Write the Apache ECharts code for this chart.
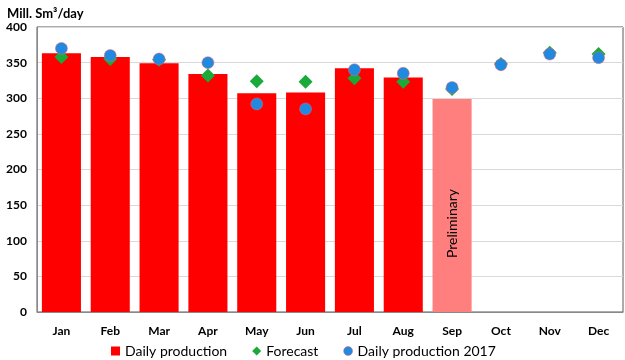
<!DOCTYPE html>
<html><head><meta charset="utf-8">
<script src="https://cdn.jsdelivr.net/npm/echarts@6/dist/echarts.min.js"></script>
<style>html,body{margin:0;padding:0;background:#fff}#c{width:625px;height:360px}</style>
</head><body><div id="c"></div>
<script>
var months = ['Jan','Feb','Mar','Apr','May','Jun','Jul','Aug','Sep','Oct','Nov','Dec'];
var dailyProduction = [363, 358, 349, 334, 307, 308, 342, 329, 299, null, null, null];
var forecast = [358, 355, 354, 332, 324, 323, 328, 323, 313, 348, 364, 362];
var production2017 = [370, 360, 355, 350, 292, 285, 340, 335, 315, 347, 362, 357];
var preliminaryIndex = 8;
var yTicks = {min: 0, max: 400, interval: 50};

var font = 'Lato, "Open Sans", sans-serif';
var barData = dailyProduction.map(function (v, i) {
  if (i === preliminaryIndex) {
    return {value: v, itemStyle: {color: '#ff7f7f'},
      label: {show: true, formatter: 'Preliminary', position: 'inside', rotate: 90,
        offset: [-18, 0], color: '#000', fontSize: 14, fontFamily: font}};
  }
  return v;
});

var chart = echarts.init(document.getElementById('c'));
chart.setOption({
  animation: false,
  textStyle: {fontFamily: font},
  grid: {left: 37, right: 2, top: 27, bottom: 48, show: true, borderColor: '#595959', borderWidth: 1},
  title: {text: 'Mill. Sm³/day', left: 2, top: 2,
    textStyle: {fontSize: 13, fontWeight: 'bold', color: '#000', fontFamily: font}},
  legend: {bottom: -3, left: 106, itemGap: 25, itemWidth: 9, itemHeight: 9,
    textStyle: {fontSize: 14, color: '#000', fontFamily: font},
    data: [
      {name: 'Daily production', icon: 'rect', itemStyle: {color: '#ff0000'}},
      {name: 'Forecast', icon: 'diamond', itemStyle: {color: '#1aaa3a', opacity: 1}},
      {name: 'Daily production 2017', icon: 'circle', itemStyle: {color: '#1f8ae0', borderColor: '#f06070', borderWidth: 0.5, opacity: 1}}
    ]},
  xAxis: {type: 'category', data: months,
    axisLine: {lineStyle: {color: '#888'}}, axisTick: {show: false},
    axisLabel: {fontSize: 12, fontWeight: 'bold', color: '#000', margin: 13}},
  yAxis: {type: 'value', min: yTicks.min, max: yTicks.max, interval: yTicks.interval,
    axisLine: {show: true, lineStyle: {color: '#888'}}, axisTick: {show: false},
    splitLine: {lineStyle: {color: '#d9d9d9'}},
    axisLabel: {fontSize: 12, fontWeight: 'bold', color: '#000', margin: 10}},
  series: [
    {name: 'Daily production', type: 'bar', data: barData, barWidth: '80%',
      itemStyle: {color: '#ff0000'}},
    {name: 'Forecast', type: 'scatter', data: forecast, symbol: 'diamond', symbolSize: 14,
      itemStyle: {color: '#1aaa3a', opacity: 1}, z: 3},
    {name: 'Daily production 2017', type: 'scatter', data: production2017, symbol: 'circle', symbolSize: 12,
      itemStyle: {color: '#1f8ae0', borderColor: '#f06070', borderWidth: 0.5, opacity: 1}, z: 4}
  ]
});
</script></body></html>
